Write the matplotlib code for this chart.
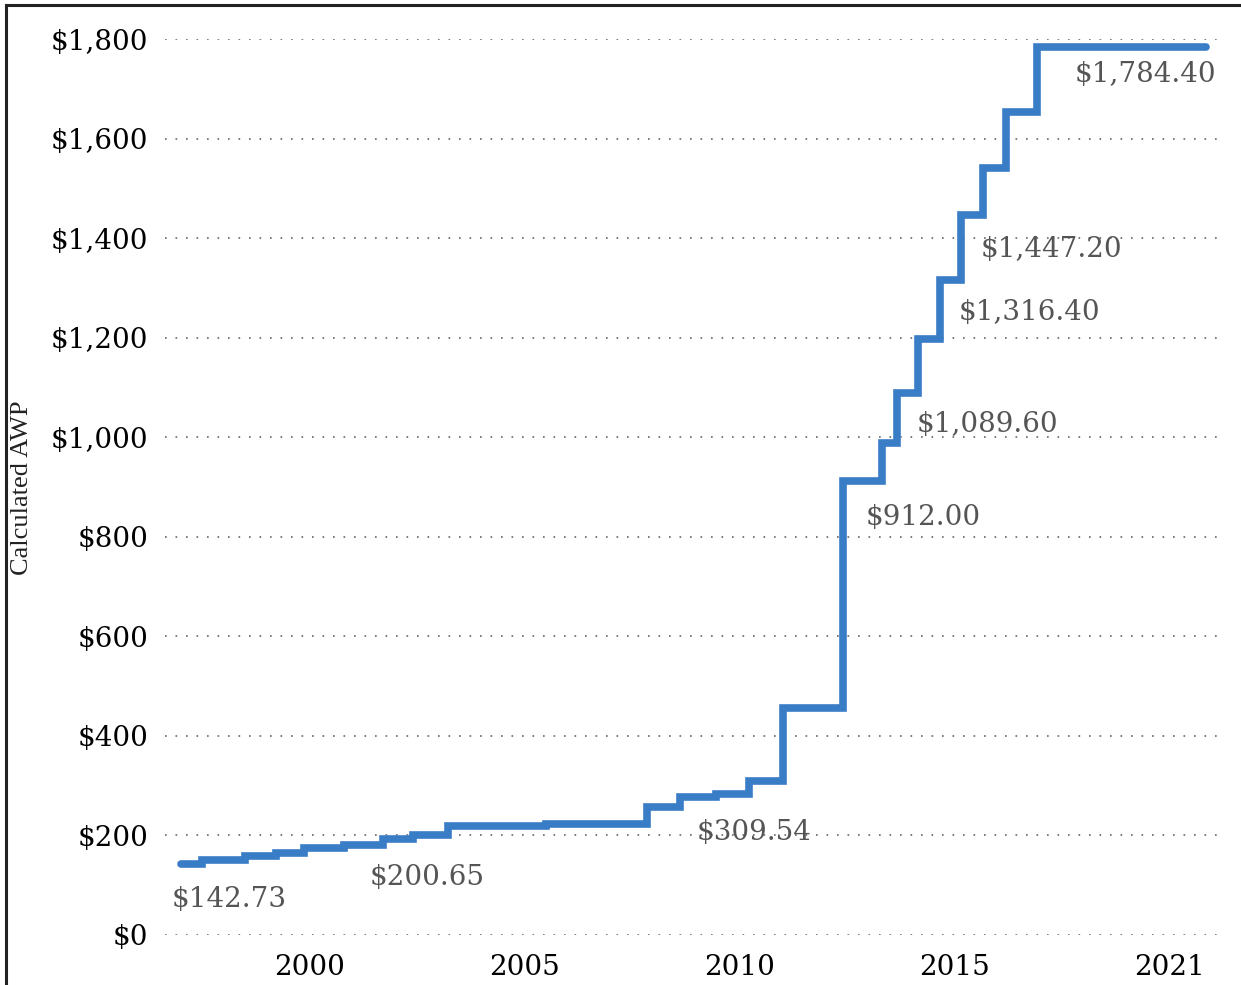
import matplotlib
matplotlib.use("Agg")
import matplotlib.pyplot as plt
from matplotlib.lines import Line2D

# step dates (fractional years) and calculated AWP at each step
years = [1997.0, 1997.5, 1998.5, 1999.2, 1999.85, 2000.8, 2001.7, 2002.4,
         2003.2, 2005.5, 2007.85, 2008.6, 2009.45, 2010.2, 2011.0, 2012.4,
         2013.3, 2013.65, 2014.15, 2014.65, 2015.15, 2015.65, 2016.2, 2016.9]
awp = [142.73, 150, 158, 165, 175, 181, 192, 200.65,
       219, 223, 258, 278, 283, 309.54, 455, 912,
       989, 1089.60, 1197, 1316.40, 1447.20, 1540, 1654, 1784.40]
end_year = 2020.85

# labelled points: (year, value, text)
labels = [(1997.0, 142.73, "$142.73"), (2002.4, 200.65, "$200.65"),
          (2010.2, 309.54, "$309.54"), (2012.4, 912.00, "$912.00"),
          (2013.65, 1089.60, "$1,089.60"), (2014.65, 1316.40, "$1,316.40"),
          (2015.15, 1447.20, "$1,447.20"), (2016.9, 1784.40, "$1,784.40")]
# label offsets in pixels (dx, dy)
offsets = [(-9, -36), (-44, -42), (-52, -52), (23, -36),
           (20, -32), (19, -33), (19, -35), (38, -28)]

yticks = [0, 200, 400, 600, 800, 1000, 1200, 1400, 1600, 1800]
xticks = [2000, 2005, 2010, 2015, 2020]
xticklabels = ["2000", "2005", "2010", "2015", "2021"]

fig = plt.figure(figsize=(12.41, 9.85), dpi=100)
ax = fig.add_axes([0.133, 0.0508, 0.8485, 0.9096])

ax.plot(years + [end_year], awp + [awp[-1]], drawstyle="steps-post",
        color="#3a7dc7", lw=5.5, solid_capstyle="round",
        solid_joinstyle="miter", clip_on=False, zorder=3)

for (x, y, t), (dx, dy) in zip(labels, offsets):
    ax.annotate(t, (x, y), xytext=(dx * 0.72, dy * 0.72),
                textcoords="offset points", ha="left", va="center",
                fontsize=20, family="DejaVu Serif", color="#555555")

ax.set_xlim(1996.63, 2021.12)
ax.set_ylim(0, 1800)
ax.set_yticks(yticks)
ax.set_yticklabels(["${:,}".format(v) for v in yticks])
ax.set_xticks(xticks)
ax.set_xticklabels(xticklabels)
ax.tick_params(length=0, labelsize=20, labelcolor="black")
ax.tick_params(axis="y", pad=12)
ax.tick_params(axis="x", pad=14)
for lab in ax.get_xticklabels() + ax.get_yticklabels():
    lab.set_family("DejaVu Serif")

ax.grid(axis="y", color="#666666", lw=1.2, linestyle=(0, (1, 5.3)))
ax.set_axisbelow(True)
for s in ax.spines.values():
    s.set_visible(False)

fig.text(0.018, 0.505, "Calculated AWP", rotation=90, ha="center",
         va="center", fontsize=19, family="Liberation Serif", color="#222222")

# frame lines at left and top of the picture
fig.add_artist(Line2D([0.005, 0.005], [0, 0.995], color="#222222", lw=2.2))
fig.add_artist(Line2D([0.005, 1.0], [0.995, 0.995], color="#222222", lw=2.2))

fig.savefig("out.png", dpi=100)
